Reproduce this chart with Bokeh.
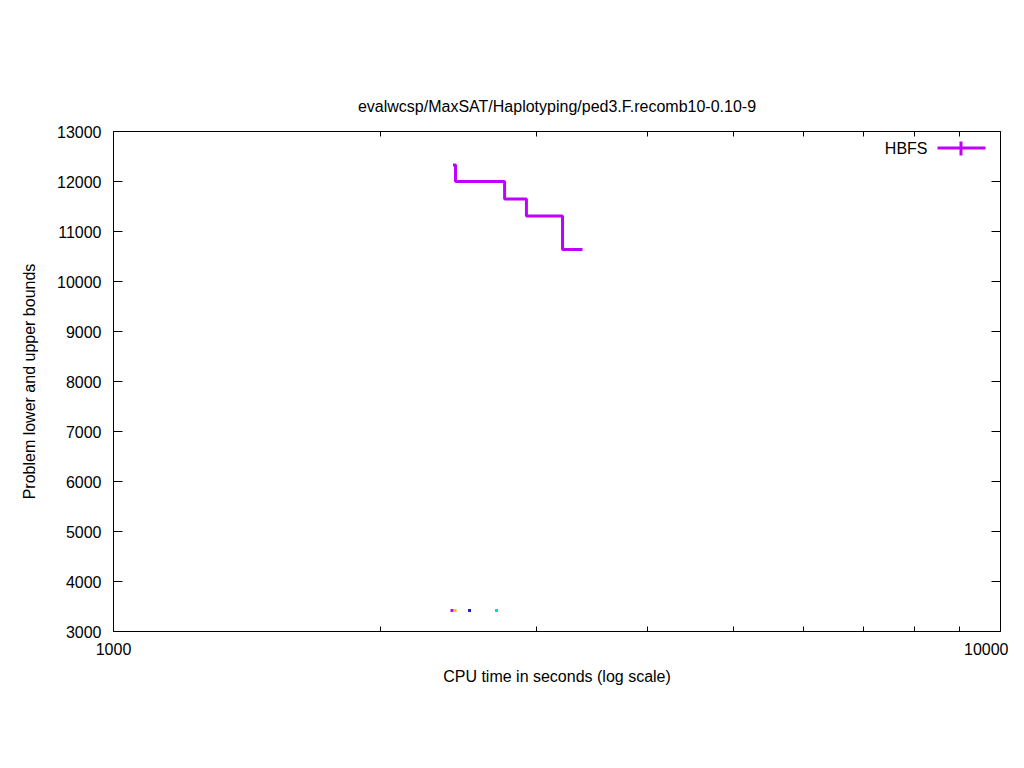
from bokeh.plotting import figure
from bokeh.models import (Range1d, LinearAxis, LogAxis, FixedTicker,
                          Label, BoxAnnotation, ColumnDataSource)
from bokeh.embed import file_html
from bokeh.resources import INLINE

# ---- data ----
title_text = "evalwcsp/MaxSAT/Haplotyping/ped3.F.recomb10-0.10-9"
x_label = "CPU time in seconds (log scale)"
y_label = "Problem lower and upper bounds"

hbfs_time = [2414, 2430, 2760, 2921, 3208, 3379]
hbfs_bound = [12330, 12000, 11650, 11310, 10640, 10640]

lb_time = [2408, 2427, 2520, 2703]
lb_bound = [3420, 3420, 3420, 3420]
lb_colors = ["#c000ff", "#ffc020", "#2020c0", "#00d8d8"]

y_ticks = [3000, 4000, 5000, 6000, 7000, 8000, 9000, 10000, 11000, 12000, 13000]
x_ticks = [1000, 10000]
x_tick_labels = {1000: "1000", 10000: "10000"}
x_minor = [2000, 3000, 4000, 5000, 6000, 7000, 8000, 9000]

FONT = "Liberation Sans"
FS = "16px"

p = figure(width=1008, height=752, x_axis_type="log",
           x_range=Range1d(1000, 10000), y_range=Range1d(3000, 13000),
           output_backend="svg", toolbar_location=None,
           min_border_left=113, min_border_right=8,
           min_border_top=131, min_border_bottom=121)
p.xgrid.visible = False
p.ygrid.visible = False
p.outline_line_color = "black"
p.outline_line_width = 1
p.background_fill_color = "white"
p.border_fill_color = "white"

xa = p.xaxis[0]
xa.ticker = FixedTicker(ticks=x_ticks, minor_ticks=x_minor)
xa.major_label_overrides = x_tick_labels
ya = p.yaxis[0]
ya.ticker = FixedTicker(ticks=y_ticks)
for ax in (xa, ya):
    ax.axis_line_color = None
    ax.major_tick_out = 0
    ax.major_tick_in = 9
    ax.minor_tick_out = 0
    ax.minor_tick_in = 5
    ax.major_label_text_font = FONT
    ax.major_label_text_font_size = FS
    ax.major_label_text_color = "black"
    ax.axis_label_text_font = FONT
    ax.axis_label_text_font_size = FS
    ax.axis_label_text_font_style = "normal"
    ax.axis_label_text_color = "black"
ya.minor_tick_line_color = None
xa.major_label_standoff = 11
ya.major_label_standoff = 12
xa.axis_label = x_label
ya.axis_label = y_label
xa.axis_label_standoff = 10
ya.axis_label_standoff = 16

# mirror axes (ticks only)
xa2 = LogAxis(ticker=FixedTicker(ticks=x_ticks, minor_ticks=x_minor),
              major_label_text_color=None, axis_line_color=None,
              major_tick_out=0, major_tick_in=9, minor_tick_out=0, minor_tick_in=5)
ya2 = LinearAxis(ticker=FixedTicker(ticks=y_ticks), major_label_text_color=None,
                 axis_line_color=None, major_tick_out=0, major_tick_in=9,
                 minor_tick_line_color=None)
p.add_layout(xa2, "above")
p.add_layout(ya2, "right")

p.title.text = title_text
p.title.align = "center"
p.title.text_font = FONT
p.title.text_font_size = FS
p.title.text_font_style = "normal"
p.title.text_color = "black"
p.title.offset = 0
p.title.standoff = 33

p.step(hbfs_time, hbfs_bound, mode="after", line_color="#c000ff", line_width=3)
src = ColumnDataSource(dict(x=lb_time, y=lb_bound, c=lb_colors))
p.scatter("x", "y", source=src, marker="square", size=3, fill_color="c", line_color=None)

# legend (gnuplot style: text left, sample right)
p.add_layout(Label(x=814, y=483, x_units="screen", y_units="screen", text="HBFS",
                   text_align="right", text_baseline="middle", text_font=FONT,
                   text_font_size=FS, text_color="black"))
p.add_layout(BoxAnnotation(left=824, right=872, bottom=482, top=485,
                           left_units="screen", right_units="screen",
                           bottom_units="screen", top_units="screen",
                           fill_color="#c000ff", fill_alpha=1, line_color=None))
p.add_layout(BoxAnnotation(left=846, right=849, bottom=476, top=490,
                           left_units="screen", right_units="screen",
                           bottom_units="screen", top_units="screen",
                           fill_color="#c000ff", fill_alpha=1, line_color=None))

open("out.html", "w").write(file_html(p, INLINE))
